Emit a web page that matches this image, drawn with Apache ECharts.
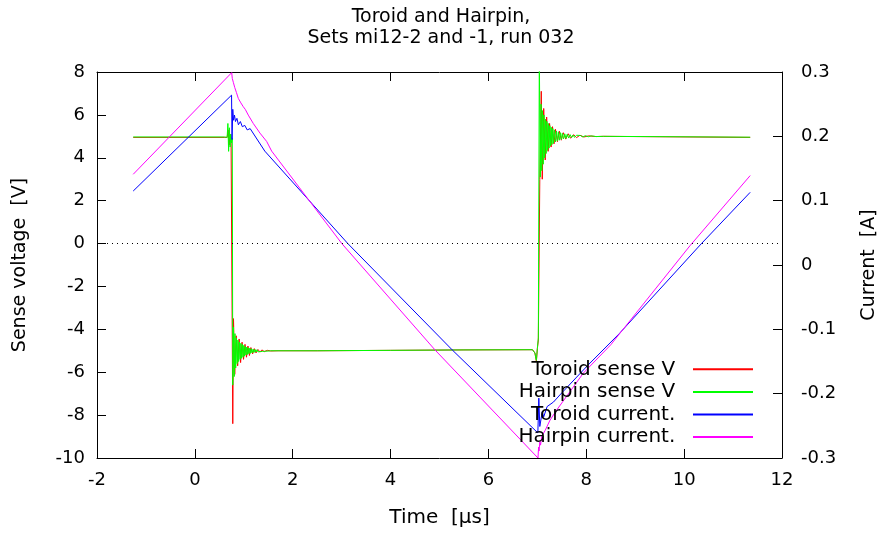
<!DOCTYPE html>
<html>
<head>
<meta charset="utf-8">
<script src="https://cdn.jsdelivr.net/npm/echarts@6/dist/echarts.min.js"></script>
<style>
html,body{margin:0;padding:0;background:#fff;}
#chart{width:882px;height:535px;}
</style>
</head>
<body>
<div id="chart"></div>
<script>
// ---- data (time in µs) ----
const titleLines = ['Toroid and Hairpin,', 'Sets mi12-2 and -1, run 032'];
const seriesNames = ['Toroid sense V', 'Hairpin sense V', 'Toroid current.', 'Hairpin current.'];
const xTicks = { min: -2, max: 12, step: 2 };
const vTicks = { min: -10, max: 8, step: 2 };
const iTicks = { min: -0.3, max: 0.3, step: 0.1 };

// Toroid sense voltage [V]
const toroidSenseV = [
  [-1.26,4.95],[0.60,4.95],[0.66,4.95],[0.68,5.3],[0.70,4.6],[0.72,5.1],[0.74,4.85],[0.76,4.9],
  [0.775,-8.4],[0.79,-3.5],[0.815,-6.1],[0.845,-4.3],[0.875,-5.7],[0.905,-4.45],[0.935,-5.55],
  [0.965,-4.6],[0.995,-5.4],[1.025,-4.7],[1.055,-5.3],[1.085,-4.78],[1.115,-5.22],[1.145,-4.85],
  [1.18,-5.15],[1.215,-4.9],[1.25,-5.1],[1.29,-4.94],[1.33,-5.06],[1.37,-4.96],[1.42,-5.04],
  [1.48,-4.98],[1.55,-5.01],[1.70,-5.0],[2.5,-5.0],[4.0,-4.98],[5.5,-4.96],[6.90,-4.95],
  [6.95,-5.1],[6.98,-5.5],[7.00,-4.9],[7.02,-4.5],[7.05,3.0],[7.08,7.1],[7.10,3.0],[7.13,6.3],
  [7.16,3.9],[7.19,5.9],[7.22,4.3],[7.25,5.6],[7.28,4.5],[7.31,5.45],[7.34,4.65],[7.37,5.33],
  [7.41,4.75],[7.45,5.24],[7.49,4.82],[7.53,5.17],[7.58,4.87],[7.63,5.12],[7.68,4.91],[7.74,5.08],
  [7.80,4.94],[7.87,5.05],[7.95,4.97],[8.05,5.02],[8.20,4.99],[8.35,5.0],[11.35,4.95]
];
// Hairpin sense voltage [V]
const hairpinSenseV = [
  [-1.26,4.97],[0.60,4.97],[0.66,4.95],[0.675,5.6],[0.69,4.3],[0.705,5.4],[0.72,4.5],[0.735,5.1],
  [0.75,4.7],[0.765,4.9],[0.775,-6.6],[0.790,-3.9],[0.805,-6.2],[0.820,-4.2],[0.835,-5.8],
  [0.850,-4.4],[0.865,-5.6],[0.880,-4.5],[0.895,-5.5],[0.910,-4.6],[0.925,-5.4],[0.940,-4.65],
  [0.955,-5.35],[0.970,-4.7],[0.985,-5.3],[1.000,-4.75],[1.015,-5.25],[1.030,-4.8],[1.045,-5.2],
  [1.060,-4.83],[1.075,-5.17],[1.090,-4.86],[1.105,-5.14],[1.120,-4.88],[1.135,-5.12],[1.150,-4.9],
  [1.170,-5.1],[1.190,-4.92],[1.210,-5.08],[1.230,-4.94],[1.250,-5.06],[1.270,-4.95],[1.290,-5.05],
  [1.310,-4.96],[1.335,-5.04],[1.360,-4.97],[1.385,-5.03],[1.410,-4.98],[1.440,-5.02],[1.470,-4.985],
  [1.50,-5.015],[1.55,-5.0],[2.5,-5.0],[4.0,-4.98],[5.5,-4.96],[6.90,-4.95],[6.95,-5.1],[6.98,-5.45],
  [7.00,-4.9],[7.02,-4.4],[7.04,8.8],[7.06,3.1],[7.075,6.5],[7.09,3.4],[7.105,6.2],[7.12,3.7],
  [7.135,6.0],[7.15,4.0],[7.165,5.8],[7.18,4.2],[7.195,5.7],[7.21,4.35],[7.225,5.6],[7.24,4.45],
  [7.255,5.5],[7.27,4.55],[7.285,5.42],[7.30,4.62],[7.315,5.36],[7.33,4.68],[7.35,5.3],[7.37,4.74],
  [7.39,5.25],[7.41,4.78],[7.43,5.21],[7.45,4.82],[7.47,5.17],[7.49,4.85],[7.51,5.14],[7.535,4.88],
  [7.56,5.12],[7.585,4.9],[7.61,5.1],[7.64,4.92],[7.67,5.08],[7.70,4.94],[7.73,5.06],[7.76,4.95],
  [7.80,5.05],[7.84,4.96],[7.88,5.04],[7.93,4.97],[7.98,5.03],[8.04,4.98],[8.10,5.02],[8.20,4.99],
  [8.35,5.0],[11.35,4.96]
];
// Toroid current [A]
const toroidCurrent = [
  [-1.26,0.115],[0.75,0.264],[0.76,0.195],[0.775,0.242],[0.79,0.225],[0.81,0.233],[0.83,0.223],
  [0.86,0.228],[0.89,0.218],[0.93,0.223],[0.97,0.215],[1.02,0.217],[1.07,0.210],[1.13,0.212],
  [1.43,0.177],[3.13,0.033],[5.26,-0.132],[7.01,-0.261],[7.03,-0.207],[7.05,-0.251],[7.10,-0.228],
  [7.13,-0.236],[7.20,-0.220],[7.33,-0.213],[7.46,-0.202],[8.03,-0.156],[8.67,-0.107],
  [10.35,0.033],[11.35,0.113]
];
// Hairpin current [A]
const hairpinCurrent = [
  [-1.26,0.141],[0.753,0.299],[0.765,0.290],[0.775,0.293],[0.786,0.284],[0.80,0.286],[0.815,0.276],
  [0.83,0.278],[0.85,0.268],[0.87,0.269],[0.888,0.259],[0.91,0.260],[0.94,0.252],[0.96,0.252],
  [0.99,0.246],[1.03,0.242],[1.092,0.233],[1.194,0.220],[1.331,0.205],[1.468,0.192],[1.57,0.177],
  [3.007,0.033],[4.908,-0.132],[7.013,-0.300],[7.025,-0.283],[7.035,-0.289],[7.05,-0.275],
  [7.065,-0.280],[7.09,-0.266],[7.11,-0.269],[7.16,-0.257],[7.20,-0.254],[7.26,-0.241],
  [7.39,-0.226],[7.94,-0.168],[8.50,-0.124],[10.12,0.030],[11.35,0.139]
];

const FONT = 'DejaVu Sans';
const TICK_FS = 18;
const chart = echarts.init(document.getElementById('chart'), null, {renderer: 'canvas'});

function axisCommon() {
  return {
    axisLine: {show: true, onZero: false, lineStyle: {color: '#000', width: 1}},
    axisTick: {show: true, inside: true, length: 9, lineStyle: {color: '#000', width: 1}},
    splitLine: {show: false},
    axisLabel: {color: '#000', fontFamily: FONT, fontSize: TICK_FS},
    nameTextStyle: {color: '#000', fontFamily: FONT, fontSize: 19}
  };
}

function lineSeries(name, data, color, yIdx, extra) {
  return Object.assign({
    name: name, type: 'line', data: data, xAxisIndex: 0, yAxisIndex: yIdx,
    showSymbol: false, symbol: 'none', animation: false,
    color: color, lineStyle: {color: color, width: 1}, clip: true
  }, extra || {});
}

const option = {
  backgroundColor: '#fff',
  animation: false,
  title: {
    text: titleLines.join('\n'), left: 'center', top: 7, padding: 0,
    textStyle: {color: '#000', fontFamily: FONT, fontSize: 19, fontWeight: 'normal', lineHeight: 21}
  },
  grid: {left: 97, right: 100, top: 72, bottom: 77, containLabel: false, outerBoundsMode: 'none'},
  legend: {
    orient: 'vertical', align: 'right', right: 124, top: 353,
    itemWidth: 60, itemHeight: 2, itemGap: 0, icon: 'rect',
    data: seriesNames,
    formatter: n => n + '  ',
    textStyle: {color: '#000', fontFamily: FONT, fontSize: 20, lineHeight: 22.6}
  },
  xAxis: [
    Object.assign(axisCommon(), {
      type: 'value', position: 'bottom', min: xTicks.min, max: xTicks.max, interval: xTicks.step,
      name: 'Time  [µs]', nameLocation: 'middle', nameGap: 50,
      nameTextStyle: {color: '#000', fontFamily: FONT, fontSize: 20},
      axisLabel: {color: '#000', fontFamily: FONT, fontSize: TICK_FS, margin: 13}
    }),
    Object.assign(axisCommon(), {
      type: 'value', position: 'top', min: xTicks.min, max: xTicks.max, interval: xTicks.step,
      axisLabel: {show: false}
    })
  ],
  yAxis: [
    Object.assign(axisCommon(), {
      type: 'value', position: 'left', min: vTicks.min, max: vTicks.max, interval: vTicks.step,
      name: 'Sense voltage  [V]', nameLocation: 'middle', nameGap: 67, nameRotate: 90,
      axisLabel: {color: '#000', fontFamily: FONT, fontSize: TICK_FS, margin: 12}
    }),
    Object.assign(axisCommon(), {
      type: 'value', position: 'right', min: iTicks.min, max: iTicks.max, interval: iTicks.step,
      name: 'Current  [A]', nameLocation: 'middle', nameGap: 78, nameRotate: 90,
      axisLabel: {color: '#000', fontFamily: FONT, fontSize: TICK_FS, margin: 19,
        formatter: v => String(+v.toFixed(1))}
    })
  ],
  series: [
    lineSeries(seriesNames[0], toroidSenseV, '#ff0000', 0, {
      markLine: {
        silent: true, symbol: 'none', animation: false, label: {show: false},
        lineStyle: {color: '#000', type: [1, 4], width: 1},
        data: [{yAxis: 0}]
      }
    }),
    lineSeries(seriesNames[1], hairpinSenseV, '#00ff00', 0),
    lineSeries(seriesNames[2], toroidCurrent, '#0000ff', 1),
    lineSeries(seriesNames[3], hairpinCurrent, '#ff00ff', 1)
  ]
};
chart.setOption(option);
</script>
</body>
</html>
